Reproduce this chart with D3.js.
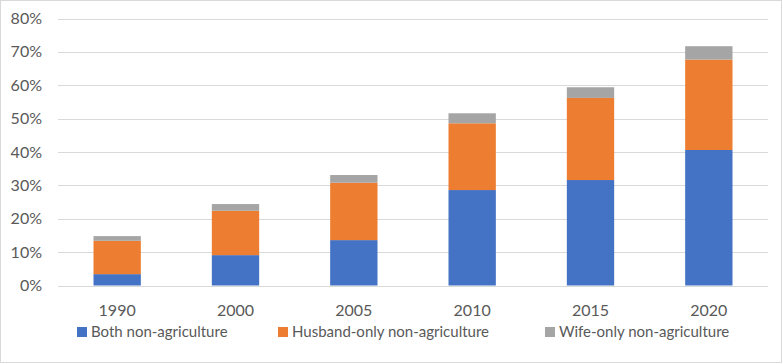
<html>
<head>
<script src="https://d3js.org/d3.v7.min.js"></script>
<style>
body { margin: 0; background: white; }
text { font-family: Lato, "Open Sans", sans-serif; fill: #595959; }
</style>
</head>
<body>
<svg width="783" height="364"></svg>
<script>
// values in percent
var years = ["1990", "2000", "2005", "2010", "2015", "2020"];
var seriesNames = ["Both non-agriculture", "Husband-only non-agriculture", "Wife-only non-agriculture"];
var bothNonAg = [3.4, 9.1, 13.6, 28.6, 31.6, 40.6];
var husbandOnly = [10.0, 13.3, 17.2, 20.0, 24.6, 27.1];
var wifeOnly = [1.4, 2.0, 2.3, 3.0, 3.2, 4.0];
var yTicks = [0, 10, 20, 30, 40, 50, 60, 70, 80];
var colors = ["#4472C4", "#ED7D31", "#A5A5A5"];

var svg = d3.select("svg");

// chart border
svg.append("rect")
   .attr("x", 0.5).attr("y", 0.5)
   .attr("width", 781).attr("height", 362)
   .attr("fill", "white")
   .attr("stroke", "#d9d9d9");

var plotLeft = 58, plotRight = 768, plotTop = 18.5, plotBottom = 285.5;

var x = d3.scaleBand().domain(years).range([plotLeft, plotRight]).paddingInner(0.6).paddingOuter(0.3);
var y = d3.scaleLinear().domain([0, 80]).range([plotBottom, plotTop]);

// gridlines
svg.append("g")
   .selectAll("line")
   .data(yTicks)
   .enter()
   .append("line")
    .attr("x1", plotLeft).attr("x2", plotRight)
    .attr("y1", function(d) { return Math.round(y(d)) + 0.5; })
    .attr("y2", function(d) { return Math.round(y(d)) + 0.5; })
    .attr("stroke", "#d9d9d9")
    .attr("stroke-width", 1);

// y tick labels
svg.append("g")
   .selectAll("text")
   .data(yTicks)
   .enter()
   .append("text")
    .attr("x", 42)
    .attr("y", function(d) { return y(d); })
    .attr("dy", "0.35em")
    .attr("text-anchor", "end")
    .style("font-size", "16px")
    .text(function(d) { return d + "%"; });

// stacked bars
var rows = years.map(function(yr, i) {
  return { year: yr, a: bothNonAg[i], b: husbandOnly[i], c: wifeOnly[i] };
});
var stack = d3.stack().keys(["a", "b", "c"])(rows);

svg.append("g")
   .selectAll("g")
   .data(stack)
   .enter()
   .append("g")
    .attr("fill", function(d, i) { return colors[i]; })
   .selectAll("rect")
   .data(function(d) { return d; })
   .enter()
   .append("rect")
    .attr("x", function(d) { return x(d.data.year); })
    .attr("width", x.bandwidth())
    .attr("y", function(d) { return y(d[1]); })
    .attr("height", function(d) { return y(d[0]) - y(d[1]); });

// x labels
svg.append("g")
   .selectAll("text")
   .data(years)
   .enter()
   .append("text")
    .attr("x", function(d) { return x(d) + x.bandwidth() / 2; })
    .attr("y", 310)
    .attr("dy", "0.35em")
    .attr("text-anchor", "middle")
    .style("font-size", "16px")
    .text(function(d) { return d; });

// legend
var legendX = [77, 278, 545];
var legend = svg.append("g")
   .selectAll("g")
   .data(seriesNames)
   .enter()
   .append("g")
    .attr("transform", function(d, i) { return "translate(" + legendX[i] + ",332)"; });

legend.append("rect")
   .attr("x", 0).attr("y", -5)
   .attr("width", 10).attr("height", 10)
   .attr("fill", function(d, i) { return colors[i]; });

legend.append("text")
   .attr("x", 14)
   .attr("y", 0)
   .attr("dy", "0.35em")
   .style("font-size", "15px")
   .text(function(d) { return d; });
</script>
</body>
</html>
